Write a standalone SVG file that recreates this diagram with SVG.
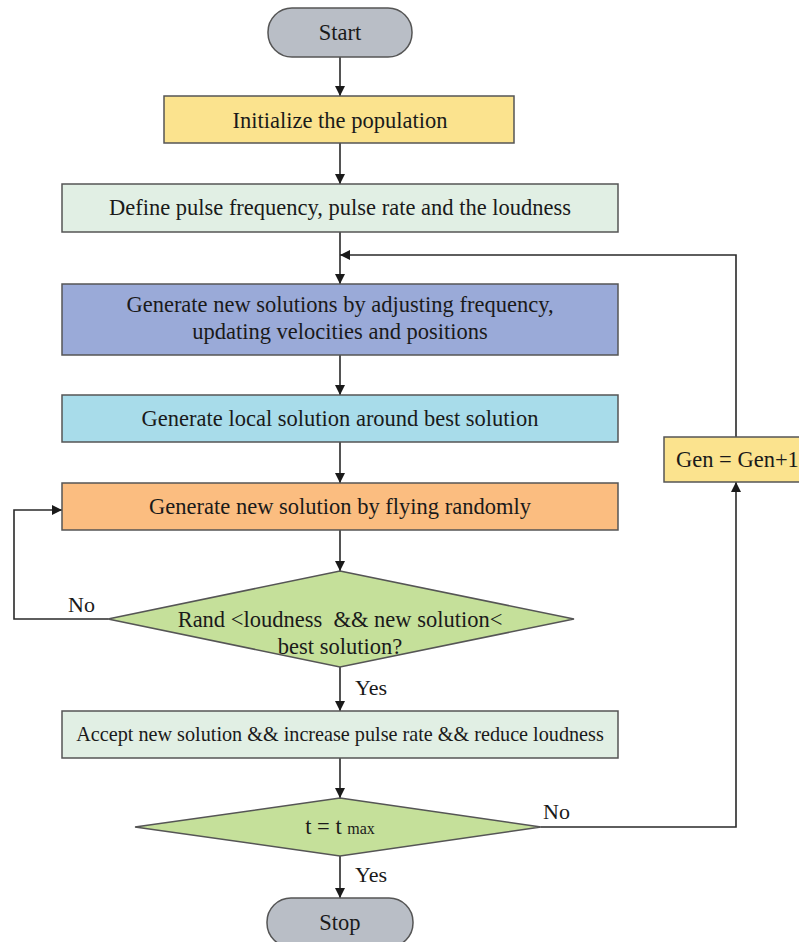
<svg xmlns="http://www.w3.org/2000/svg" width="799" height="942" viewBox="0 0 799 942">
<defs>
<marker id="ah" viewBox="0 0 10 10" refX="10" refY="5" markerWidth="10" markerHeight="10" markerUnits="userSpaceOnUse" orient="auto">
<path d="M0,0 L10,5 L0,10 z" fill="#1a1a1a"/>
</marker>
<style>
.box{stroke:#555;stroke-width:1.5}
.t{font-family:"Liberation Serif","Times New Roman",serif;font-size:22.5px;fill:#1a1a1a;text-anchor:middle}
.l{font-family:"Liberation Serif","Times New Roman",serif;font-size:22px;fill:#1a1a1a}
.c{fill:none;stroke:#2a2a2a;stroke-width:1.6}
</style>
</defs>
<rect width="799" height="942" fill="#fff"/>
<g id="connectors">
<line class="c" x1="340" y1="57" x2="340" y2="96" marker-end="url(#ah)"/>
<line class="c" x1="340" y1="143" x2="340" y2="184" marker-end="url(#ah)"/>
<line class="c" x1="340" y1="232" x2="340" y2="284" marker-end="url(#ah)"/>
<line class="c" x1="340" y1="355" x2="340" y2="395" marker-end="url(#ah)"/>
<line class="c" x1="340" y1="442" x2="340" y2="483" marker-end="url(#ah)"/>
<line class="c" x1="340" y1="530" x2="340" y2="571" marker-end="url(#ah)"/>
<polyline class="c" points="108,619 14,619 14,510 62,510" marker-end="url(#ah)"/>
<line class="c" x1="340" y1="667" x2="340" y2="711" marker-end="url(#ah)"/>
<line class="c" x1="340" y1="758" x2="340" y2="798" marker-end="url(#ah)"/>
<line class="c" x1="340" y1="856" x2="340" y2="898" marker-end="url(#ah)"/>
<polyline class="c" points="541,827 736,827 736,482" marker-end="url(#ah)"/>
<polyline class="c" points="736,437 736,255 340,255" marker-end="url(#ah)"/>
<text class="l" x="68" y="612">No</text>
<text class="l" x="355" y="695">Yes</text>
<text class="l" x="543" y="819">No</text>
<text class="l" x="355" y="882">Yes</text>
</g>
<g id="start">
<rect class="box" x="268" y="8" width="144" height="49" rx="24" fill="#b9bec6"/>
<text class="t" x="340" y="40">Start</text>
</g>
<g id="init">
<rect class="box" x="164" y="96" width="350" height="47" fill="#fbe38e"/>
<text class="t" x="340" y="128">Initialize the population</text>
</g>
<g id="define">
<rect class="box" x="62" y="184" width="556" height="48" fill="#e1efe4"/>
<text class="t" x="340" y="215">Define pulse frequency, pulse rate and the loudness</text>
</g>
<g id="generate">
<rect class="box" x="62" y="284" width="556" height="71" fill="#9aaad8"/>
<text class="t" x="340" y="312">Generate new solutions by adjusting frequency,</text>
<text class="t" x="340" y="339">updating velocities and positions</text>
</g>
<g id="local">
<rect class="box" x="62" y="395" width="556" height="47" fill="#a8dcea"/>
<text class="t" x="340" y="426">Generate local solution around best solution</text>
</g>
<g id="random">
<rect class="box" x="62" y="483" width="556" height="47" fill="#fbbd80"/>
<text class="t" x="340" y="514">Generate new solution by flying randomly</text>
</g>
<g id="decision1">
<polygon class="box" points="340,571 574,619 340,667 108,619" fill="#c5e09a"/>
<text class="t" x="340" y="627" xml:space="preserve">Rand &lt;loudness  &amp;&amp; new solution&lt;</text>
<text class="t" x="340" y="654">best solution?</text>
</g>
<g id="accept">
<rect class="box" x="62" y="711" width="556" height="47" fill="#e1efe4"/>
<text class="t" x="340" y="741" style="font-size:20.2px">Accept new solution &amp;&amp; increase pulse rate &amp;&amp; reduce loudness</text>
</g>
<g id="decision2">
<polygon class="box" points="340,798 541,827 340,856 135,827" fill="#c5e09a"/>
<text class="t" x="340" y="834">t = t <tspan style="font-size:16px">max</tspan></text>
</g>
<g id="gen">
<rect class="box" x="664" y="437" width="145" height="45" fill="#fbe38e"/>
<text class="l" x="676" y="467" style="font-size:22.5px">Gen = Gen+1</text>
</g>
<g id="stop">
<rect class="box" x="267" y="898" width="146" height="49" rx="24" fill="#b9bec6"/>
<text class="t" x="340" y="930">Stop</text>
</g>
</svg>
